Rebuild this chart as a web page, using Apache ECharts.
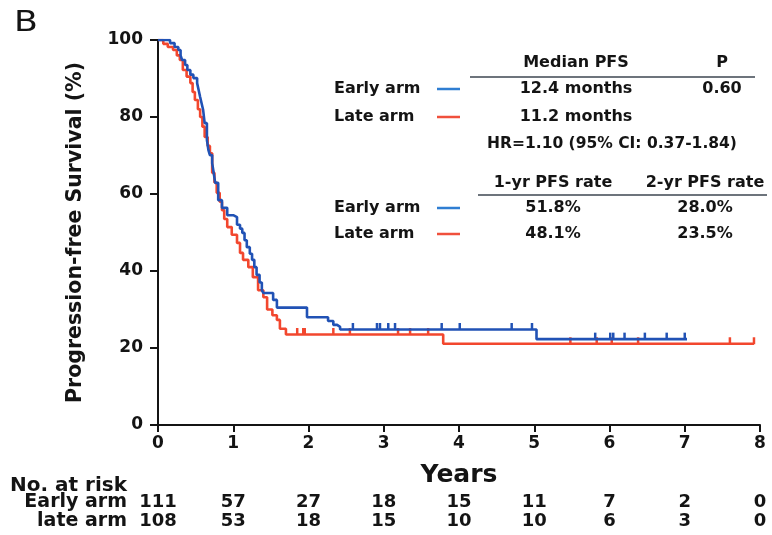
<!DOCTYPE html>
<html>
<head>
<meta charset="utf-8">
<script src="https://cdn.jsdelivr.net/npm/echarts@6/dist/echarts.min.js"></script>
<style>
  html, body { margin: 0; padding: 0; background: #fff; }
  #chart { width: 772px; height: 535px; }
</style>
</head>
<body>
<div id="chart"></div>
<script>
// Kaplan-Meier progression-free survival, early vs late arm

const yearTicks = [0, 1, 2, 3, 4, 5, 6, 7, 8];
const riskEarly = [111, 57, 27, 18, 15, 11, 7, 2, 0];
const riskLate = [108, 53, 18, 15, 10, 10, 6, 3, 0];
const riskRows = ['Early arm', 'late arm'];

// [time in years, survival % after the event at that time]
const earlyCurve = [
  [0, 100], [0.08, 100], [0.16, 99.2], [0.22, 98.2], [0.27, 97.4], [0.3, 96],
  [0.32, 94.8], [0.36, 93.5], [0.39, 92.2], [0.43, 91], [0.47, 90.1], [0.52, 88.8],
  [0.54, 87], [0.56, 85.2], [0.58, 83.5], [0.6, 81.8], [0.62, 78.4], [0.65, 74],
  [0.67, 71.4], [0.69, 70.1], [0.72, 68], [0.74, 65.5], [0.76, 62.9], [0.8, 58.4],
  [0.85, 56.4], [0.92, 54.5], [1.0, 54], [1.05, 52], [1.09, 51], [1.12, 49.9],
  [1.15, 48], [1.18, 46.2], [1.22, 44.5], [1.25, 42.9], [1.28, 41], [1.31, 39],
  [1.35, 37], [1.38, 35], [1.4, 34.3], [1.53, 32.5], [1.58, 30.5], [1.98, 28],
  [2.26, 27], [2.33, 26], [2.38, 25.5], [2.42, 24.8], [5.03, 22.3], [7.03, 22.3]
];
const lateCurve = [
  [0, 100], [0.07, 99], [0.13, 98.2], [0.2, 97.4], [0.25, 96], [0.29, 94.8],
  [0.33, 92.2], [0.38, 90.5], [0.43, 88.8], [0.46, 86.5], [0.49, 84.4], [0.53, 82],
  [0.56, 80], [0.59, 77.5], [0.62, 74.8], [0.66, 72.5], [0.69, 70.6], [0.72, 65.5],
  [0.75, 63], [0.78, 60.3], [0.82, 58], [0.85, 55.8], [0.88, 53.5], [0.92, 51.4],
  [0.98, 49.4], [1.05, 47.3], [1.09, 44.7], [1.13, 42.9], [1.2, 41], [1.26, 38.4],
  [1.33, 35], [1.4, 33.2], [1.45, 30], [1.52, 28.5], [1.58, 27.3], [1.62, 25],
  [1.7, 23.5], [3.79, 21.1], [7.92, 21.1]
];

// censoring times (years)
const earlyCensorTimes = [2.59, 2.91, 2.95, 3.06, 3.15, 3.77, 4.01, 4.7, 4.97,
  5.81, 6.01, 6.05, 6.2, 6.47, 6.76, 7.0];
const lateCensorTimes = [1.85, 1.93, 1.95, 2.33, 2.55, 3.19, 3.35, 3.59,
  5.48, 5.83, 6.03, 6.38, 7.6, 7.92];

const BLUE = '#2152b5';
const RED = '#f2472e';
const INK = '#141414';
const FONT = '"DejaVu Sans", Verdana, sans-serif';

function survivalAt(curve, t) {
  let s = curve[0][1];
  for (const [ti, si] of curve) {
    if (ti <= t) s = si; else break;
  }
  return s;
}
const earlyCensor = earlyCensorTimes.map(t => [t, survivalAt(earlyCurve, t)]);
const lateCensor = lateCensorTimes.map(t => [t, survivalAt(lateCurve, t)]);

const riskData = [];
yearTicks.forEach((yr, i) => {
  riskData.push([yr, riskRows[0], riskEarly[i]]);
  riskData.push([yr, riskRows[1], riskLate[i]]);
});

const txt = (x, y, text, align, size, weight) => ({
  type: 'text', x: x, y: y, silent: true,
  style: {
    text: text, fill: INK, font: (weight || 'bold') + ' ' + (size || 16) + 'px ' + FONT,
    textAlign: align || 'left', textVerticalAlign: 'middle'
  }
});
const hline = (x1, x2, y, color, w) => ({
  type: 'line', silent: true,
  shape: { x1: x1, y1: y, x2: x2, y2: y },
  style: { stroke: color, lineWidth: w }
});

const panelLetter = txt(14, 23, 'B', 'left', 29, 'normal');
panelLetter.scaleX = 1.2;

const chart = echarts.init(document.getElementById('chart'), null, { renderer: 'canvas' });

chart.setOption({
  animation: false,
  backgroundColor: '#fff',
  grid: [
    { left: 158, right: 12, top: 40, bottom: 110 },
    { left: 158, right: 12, top: 493, height: 38 }
  ],
  xAxis: [
    {
      type: 'value', gridIndex: 0, min: 0, max: 8, interval: 1,
      name: 'Years', nameLocation: 'middle', nameGap: 38,
      nameTextStyle: { fontFamily: FONT, fontWeight: 'bold', fontSize: 25, color: INK },
      axisLine: { lineStyle: { color: INK, width: 2 } },
      axisTick: { length: 7, lineStyle: { color: INK, width: 2 } },
      axisLabel: { fontFamily: FONT, fontWeight: 'bold', fontSize: 17, color: INK, margin: 10 },
      splitLine: { show: false }
    },
    { type: 'value', gridIndex: 1, min: 0, max: 8, show: false }
  ],
  yAxis: [
    {
      type: 'value', gridIndex: 0, min: 0, max: 100, interval: 20,
      name: 'Progression-free Survival (%)', nameLocation: 'middle', nameGap: 72,
      nameTextStyle: { fontFamily: FONT, fontWeight: 'bold', fontSize: 20.5, color: INK },
      axisLine: { show: true, lineStyle: { color: INK, width: 2 } },
      axisTick: { show: true, length: 8, lineStyle: { color: INK, width: 2 } },
      axisLabel: { fontFamily: FONT, fontWeight: 'bold', fontSize: 17, color: INK, margin: 15 },
      splitLine: { show: false }
    },
    {
      type: 'category', gridIndex: 1, data: riskRows, inverse: true,
      axisLine: { show: false }, axisTick: { show: false },
      axisLabel: { interval: 0, fontFamily: FONT, fontWeight: 'bold', fontSize: 19, color: INK, margin: 31 }
    }
  ],
  series: [
    {
      name: 'Late arm', type: 'line', step: 'end', data: lateCurve,
      xAxisIndex: 0, yAxisIndex: 0, symbol: 'none',
      lineStyle: { color: RED, width: 2.6 }
    },
    {
      name: 'Early arm', type: 'line', step: 'end', data: earlyCurve,
      xAxisIndex: 0, yAxisIndex: 0, symbol: 'none',
      lineStyle: { color: BLUE, width: 2.6 }
    },
    {
      type: 'scatter', data: lateCensor, xAxisIndex: 0, yAxisIndex: 0,
      symbol: 'rect', symbolSize: [2.5, 7], symbolOffset: [0, -3],
      itemStyle: { color: RED, opacity: 1 }
    },
    {
      type: 'scatter', data: earlyCensor, xAxisIndex: 0, yAxisIndex: 0,
      symbol: 'rect', symbolSize: [2.5, 7], symbolOffset: [0, -3],
      itemStyle: { color: BLUE, opacity: 1 }
    },
    {
      type: 'scatter', data: riskData, xAxisIndex: 1, yAxisIndex: 1,
      symbolSize: 1, itemStyle: { color: 'rgba(0,0,0,0)', opacity: 1 },
      label: {
        show: true, position: 'inside', formatter: p => String(p.value[2]),
        fontFamily: FONT, fontWeight: 'bold', fontSize: 18, color: INK,
        opacity: 1, textBorderWidth: 0
      }
    }
  ],
  graphic: [
    panelLetter,
    // median PFS block
    txt(576, 63, 'Median PFS', 'center'),
    txt(722, 63, 'P', 'center'),
    hline(470, 755, 77, '#3c4650', 1.6),
    txt(334, 89, 'Early arm', 'left'),
    hline(437, 460, 89, '#2f7ed2', 2.5),
    txt(576, 89, '12.4 months', 'center'),
    txt(722, 89, '0.60', 'center'),
    txt(334, 117, 'Late arm', 'left'),
    hline(437, 460, 117, '#f0503c', 2.5),
    txt(576, 117, '11.2 months', 'center'),
    txt(612, 144, 'HR=1.10 (95% CI: 0.37-1.84)', 'center', 15.5),
    // PFS rate block
    txt(553, 183, '1-yr PFS rate', 'center'),
    txt(705, 183, '2-yr PFS rate', 'center'),
    hline(478, 767, 195, '#3c4650', 1.6),
    txt(334, 208, 'Early arm', 'left'),
    hline(437, 460, 208, '#2f7ed2', 2.5),
    txt(553, 208, '51.8%', 'center'),
    txt(705, 208, '28.0%', 'center'),
    txt(334, 234, 'Late arm', 'left'),
    hline(437, 460, 234, '#f0503c', 2.5),
    txt(553, 234, '48.1%', 'center'),
    txt(705, 234, '23.5%', 'center'),
    // risk table heading
    txt(10, 486, 'No. at risk', 'left', 20)
  ]
});
</script>
</body>
</html>
